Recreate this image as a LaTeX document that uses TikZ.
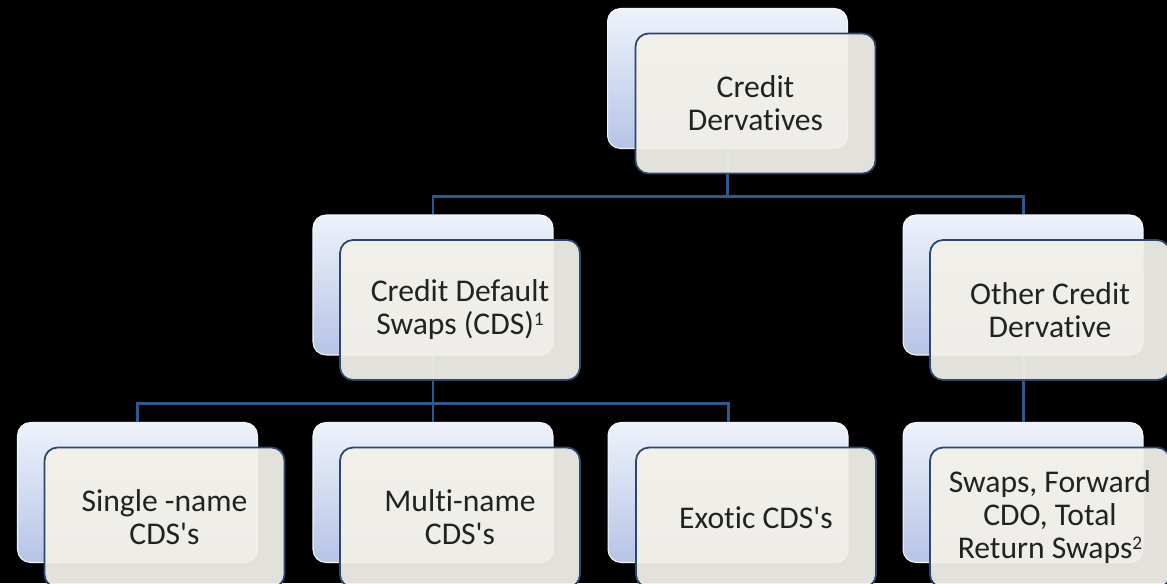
\documentclass[tikz,border=0pt]{standalone}
\usepackage{fontspec}
\newfontfamily\boxfont{Carlito}[Ligatures=NoCommon]
\usepackage{xcolor}

\definecolor{backtop}{RGB}{238,242,251}
\definecolor{backbot}{RGB}{182,196,230}
\definecolor{frontfill}{RGB}{242,240,233}
\definecolor{frontline}{RGB}{44,70,112}
\definecolor{linkblue}{RGB}{48,88,142}
\definecolor{textgrey}{RGB}{34,34,34}

\newcommand{\supnum}[1]{\raisebox{0.6ex}{\fontsize{11}{11}\selectfont #1}}

\tikzset{
  backbox/.style={rounded corners=0.26cm, minimum width=4.8cm, minimum height=2.8cm,
    top color=backtop, bottom color=backbot, draw=white!85!backbot, line width=0.6pt},
  frontbox/.style={rounded corners=0.26cm, minimum width=4.8cm, minimum height=2.8cm,
    fill=frontfill, fill opacity=0.94, text opacity=1, draw=frontline, line width=1pt,
    text=textgrey, font=\boxfont\fontsize{18}{18.8}\selectfont, align=center},
  link/.style={draw=linkblue, line width=1.7pt}
}

\begin{document}
\begin{tikzpicture}[x=0.02cm, y=0.02cm]
% Background
\fill[black] (0,0) rectangle (1167,583);
\clip (0,0) rectangle (1167,583);
\useasboundingbox (0,0) rectangle (1167,583);

% Back boxes
\node[backbox] (credit) at (727.5,504.5) {};
\node[backbox] (cds)    at (433,298) {};
\node[backbox] (other)  at (1023,298) {};
\node[backbox] (single) at (137.5,90.5) {};
\node[backbox] (multi)  at (433,90.5) {};
\node[backbox] (exotic) at (728,90.5) {};
\node[backbox] (swaps)  at (1023,90.5) {};

% Connectors
\draw[link] (credit.south) -- ++(0,-47.5) -| (cds.north);
\draw[link] (credit.south) -- ++(0,-47.5) -| (other.north);
\draw[link] (cds.south) -- ++(0,-48) -| (single.north);
\draw[link] (cds.south) -- (multi.north);
\draw[link] (cds.south) -- ++(0,-48) -| (exotic.north);
\draw[link] (other.south) -- (swaps.north);

% Front boxes with text
\node[frontbox] (creditF) at ([shift={(28,-25)}]credit) {Credit\\Dervatives};
\node[frontbox] (cdsF)    at ([shift={(27,-25)}]cds) {Credit Default\\Swaps (CDS)\supnum{1}};
\node[frontbox] (otherF)  at ([shift={(27,-25)}]other) {Other Credit\\Dervative};
\node[frontbox] (singleF) at ([shift={(27,-25)}]single) {Single -name\\CDS's};
\node[frontbox] (multiF)  at ([shift={(27,-25)}]multi) {Multi-name\\CDS's};
\node[frontbox] (exoticF) at ([shift={(28,-25)}]exotic) {Exotic CDS's};
\node[frontbox] (swapsF)  at ([shift={(27,-25)}]swaps) {Swaps, Forward\\CDO, Total\\Return Swaps\supnum{2}};
\end{tikzpicture}
\end{document}
